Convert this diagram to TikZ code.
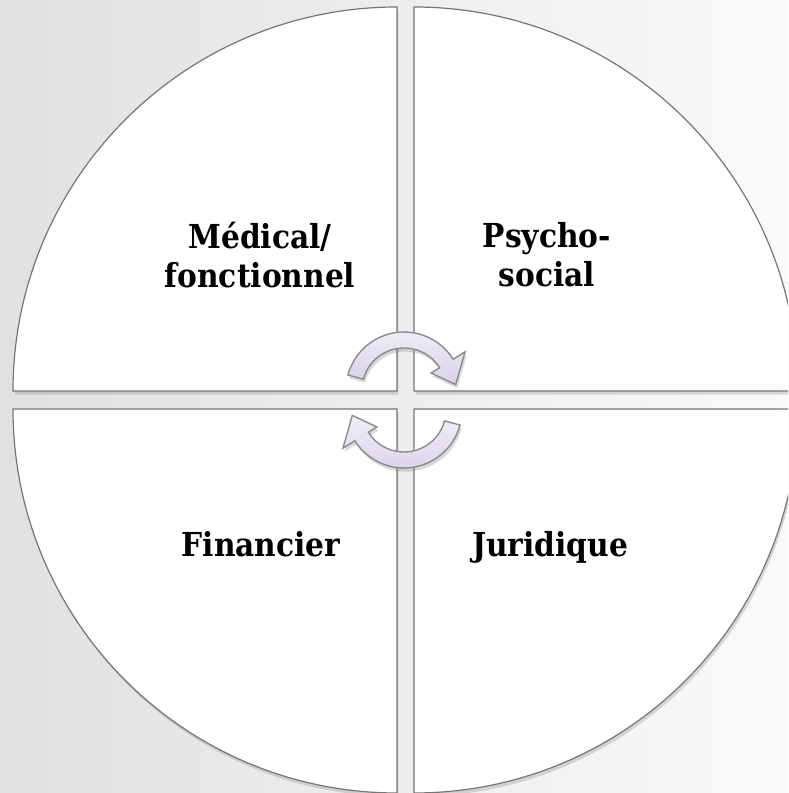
\documentclass[tikz,border=0pt]{standalone}
\usepackage{fontspec}
\setmainfont{DejaVu Serif Condensed}
\usepackage{tikz}
\usetikzlibrary{shadows}
\definecolor{bgleft}{HTML}{E1E1E1}
\definecolor{bgright}{HTML}{FAFAFA}
\definecolor{edge}{HTML}{767676}
\definecolor{lilac}{HTML}{DAD2EA}
\definecolor{lilaclight}{HTML}{F1EEF7}
\tikzset{
  quadrant/.style={draw=edge, line width=0.6pt, fill=white,
    drop shadow={shadow xshift=0.8pt, shadow yshift=-1.8pt, opacity=0.28}},
  cyclearrow/.style={draw=edge!85, line width=0.7pt, top color=lilaclight, bottom color=lilac,
    drop shadow={shadow xshift=0.8pt, shadow yshift=-1.8pt, opacity=0.3}},
  lbl/.style={font=\bfseries\fontsize{16.5}{19.5}\selectfont, align=center, inner sep=0pt}
}

\begin{document}
\begin{tikzpicture}[x=0.5pt, y=0.5pt]
  \useasboundingbox (0,0) rectangle (788,793);
  \clip (0,0) rectangle (788,793);
  \shade[left color=bgleft, right color=bgright] (0,0) rectangle (788,793);

  % the four quarters
  \def\r{384}
  \draw[quadrant] (397,402) -- (13,402) arc[start angle=180, end angle=90, radius=\r] -- cycle;
  \draw[quadrant] (414,402) -- (414,786) arc[start angle=90, end angle=0, radius=\r] -- cycle;
  \draw[quadrant] (397,384) -- (13,384) arc[start angle=180, end angle=270, radius=\r] -- cycle;
  \draw[quadrant] (414,384) -- (798,384) arc[start angle=0, end angle=-90, radius=\r] -- cycle;

  % circular arrows
  \coordinate (ctop) at (404,403);
  \coordinate (cbot) at (404,383);
  \path[cyclearrow, shift={(ctop)}]
    (165:58) arc[start angle=165, end angle=32, radius=58] -- (32:72) -- (6:52)
    -- (32:32) -- (32:42) arc[start angle=32, end angle=165, radius=42] -- cycle;
  \path[cyclearrow, shift={(cbot)}, rotate=180]
    (165:58) arc[start angle=165, end angle=32, radius=58] -- (32:72) -- (6:52)
    -- (32:32) -- (32:42) arc[start angle=32, end angle=165, radius=42] -- cycle;

  % labels
  \node[lbl] (medical) at (260,538) {Médical/\\fonctionnel};
  \node[lbl] (psycho) at (547,538) {Psycho-\\social};
  \node[lbl, anchor=base] (financier) at (261,236) {Financier};
  \node[lbl, anchor=base] (juridique) at (550,236) {Juridique};
\end{tikzpicture}
\end{document}
